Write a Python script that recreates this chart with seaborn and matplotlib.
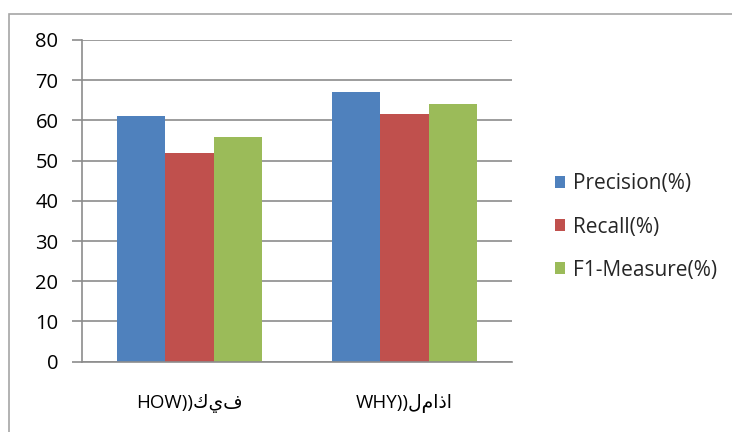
import matplotlib
matplotlib.use("Agg")
import matplotlib.pyplot as plt
import seaborn as sns
import pandas as pd
from matplotlib.patches import Rectangle, Patch

categories = ["HOW))كيف", "WHY))لماذا"]
series = ["Precision(%)", "Recall(%)", "F1-Measure(%)"]
precision = [61, 67]
recall = [52, 61.7]
f1 = [55.8, 64]
y_ticks = [0, 10, 20, 30, 40, 50, 60, 70, 80]
colors = ["#4F81BD", "#C0504D", "#9BBB59"]

rows = []
for s, vals in zip(series, [precision, recall, f1]):
    for c, v in zip(categories, vals):
        rows.append({"cat": c, "series": s, "val": v})
df = pd.DataFrame(rows)

sns.set_style("white")
plt.rcParams["font.family"] = ["Open Sans", "DejaVu Sans"]

fig = plt.figure(figsize=(7.32, 4.32), dpi=100)
W, H = 732, 432
ax = fig.add_axes([82 / W, 1 - 361.7 / H, (512 - 82) / W, (361.7 - 40) / H])

sns.barplot(data=df, x="cat", y="val", hue="series", palette=colors,
            order=categories, hue_order=series, width=0.67, ax=ax,
            saturation=1, edgecolor="none", linewidth=0, legend=False)

ax.set_ylim(0, 80)
ax.set_xlim(-0.5, 1.5)
ax.set_yticks(y_ticks)
ax.set_yticklabels([str(t) for t in y_ticks])
ax.yaxis.grid(True, color="#8c8c8c", linewidth=1.2)
ax.set_axisbelow(True)
ax.set_xlabel("")
ax.set_ylabel("")
for side in ["top", "right"]:
    ax.spines[side].set_visible(False)
for side in ["left", "bottom"]:
    ax.spines[side].set_color("#8c8c8c")
    ax.spines[side].set_linewidth(1.2)

ax.set_xticks([-0.5, 0.5, 1.5], minor=True)
ax.tick_params(axis="x", which="minor", length=7, color="#8c8c8c", width=1.2)
ax.tick_params(axis="x", which="major", length=0, pad=23, labelsize=13.5, labelcolor="#000000")
ax.tick_params(axis="y", which="major", left=True, length=7, color="#8c8c8c", width=1.2,
               pad=10, labelsize=14.5, labelcolor="#000000")

handles = [Patch(facecolor=c, edgecolor="none") for c in colors]
leg = fig.legend(handles, series, loc="center left", bbox_to_anchor=(555 / W, 1 - 227 / H),
                 frameon=False, fontsize=15, handlelength=0.5, handleheight=0.5,
                 handletextpad=0.35, labelspacing=1.07, borderpad=0, borderaxespad=0)

fig.add_artist(Rectangle((9 / W, -0.1), 1.2, 1 - 14 / H + 0.1, transform=fig.transFigure,
                         fill=False, edgecolor="#a6a6a6", linewidth=1.2))

fig.savefig("out.png", dpi=100)
